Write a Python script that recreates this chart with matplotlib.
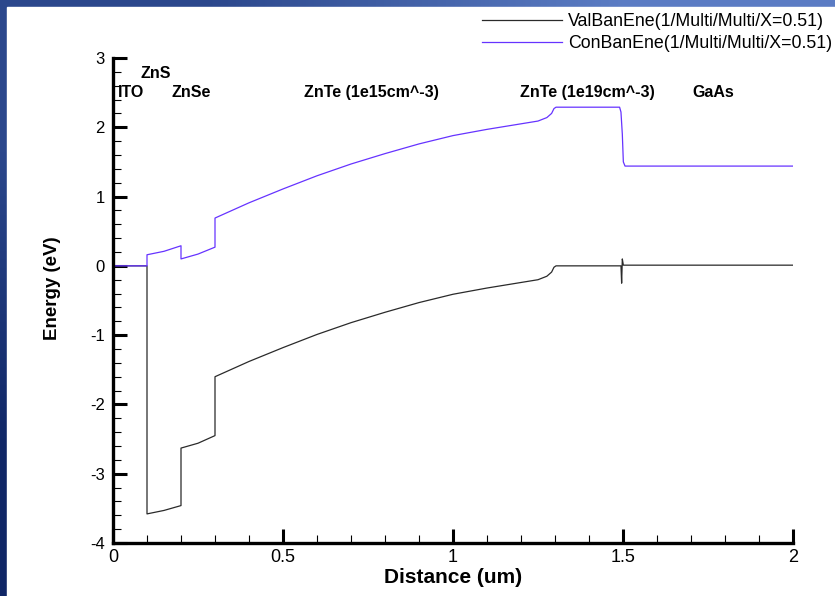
import numpy as np
import matplotlib
matplotlib.use("Agg")
import matplotlib.pyplot as plt
from matplotlib.patches import Rectangle

# conduction band (purple)
cb_x = [0, 0.1, 0.1, 0.15, 0.2, 0.2, 0.25, 0.3, 0.3, 0.4, 0.5, 0.6, 0.7, 0.8, 0.9, 1.0,
        1.1, 1.2, 1.25, 1.276, 1.29, 1.297, 1.303, 1.49, 1.494, 1.498, 1.501, 1.506, 2.0]
cb_y = [0, 0, 0.16, 0.21, 0.29, 0.10, 0.17, 0.27, 0.69, 0.91, 1.11, 1.30, 1.47, 1.62, 1.76, 1.88,
        1.97, 2.05, 2.09, 2.14, 2.20, 2.27, 2.29, 2.29, 2.22, 1.90, 1.50, 1.44, 1.44]

# valence band (black)
vb_x = [0, 0.1, 0.1, 0.15, 0.2, 0.2, 0.25, 0.3, 0.3, 0.4, 0.5, 0.6, 0.7, 0.8, 0.9, 1.0,
        1.1, 1.2, 1.25, 1.276, 1.29, 1.297, 1.303, 1.494, 1.496, 1.498, 1.501, 2.0]
vb_y = [0, 0, -3.58, -3.53, -3.46, -2.63, -2.56, -2.45, -1.60, -1.38, -1.18, -0.99, -0.82, -0.67, -0.53, -0.41,
        -0.32, -0.24, -0.20, -0.15, -0.09, -0.02, 0.0, 0.0, -0.25, 0.10, 0.01, 0.01]

layer_names = ["ITO", "ZnS", "ZnSe", "ZnTe (1e15cm^-3)", "ZnTe (1e19cm^-3)", "GaAs"]
layer_x = [0.015, 0.127, 0.23, 0.76, 1.395, 1.765]
layer_y = [2.5, 2.77, 2.5, 2.5, 2.5, 2.5]
layer_ha = ["left", "center", "center", "center", "center", "center"]

plt.rcParams["font.family"] = ["Liberation Sans", "DejaVu Sans"]
plt.rcParams["axes.unicode_minus"] = False

fig = plt.figure(figsize=(8.35, 5.96), dpi=100)

# slide style blue border
bg = fig.add_axes([0, 0, 1, 1], zorder=-2)
grad = np.array([[[0.17, 0.28, 0.55], [0.36, 0.49, 0.77]],
                 [[0.06, 0.15, 0.40], [0.20, 0.30, 0.60]]])
bg.imshow(grad, aspect="auto", interpolation="bilinear", extent=[0, 1, 0, 1])
bg.add_patch(Rectangle((7 / 835, 0), 1, 1 - 7 / 596, color="white", transform=bg.transAxes))
bg.axis("off")

ax = fig.add_axes([113 / 835, 53 / 596, 680 / 835, 485 / 596])
ax.patch.set_alpha(0)
ax.plot(vb_x, vb_y, color="#2a2a2a", lw=0.9, label="ValBanEne(1/Multi/Multi/X=0.51)")
ax.plot(cb_x, cb_y, color="#6633ff", lw=0.9, label="ConBanEne(1/Multi/Multi/X=0.51)")

for name, x, y, ha in zip(layer_names, layer_x, layer_y, layer_ha):
    ax.text(x, y, name, ha=ha, va="center", fontsize=11.5, fontweight="bold")

ax.set_xlim(0, 2)
ax.set_ylim(-4, 3)
ax.set_xticks([0, 0.5, 1, 1.5, 2])
ax.set_xticklabels(["0", "0.5", "1", "1.5", "2"], fontsize=13)
ax.set_xticks(np.arange(0, 2.01, 0.1), minor=True)
ax.set_yticks(range(-4, 4))
ax.set_yticks(np.arange(-4, 3.01, 0.2), minor=True)
ax.tick_params(axis="y", labelsize=12, pad=6)
ax.tick_params(axis="x", pad=4)
ax.tick_params(which="major", direction="in", length=10, width=2.2)
ax.tick_params(which="minor", direction="in", length=6, width=0.8)
for s in ["top", "right"]:
    ax.spines[s].set_visible(False)
for s in ["left", "bottom"]:
    ax.spines[s].set_linewidth(2.4)

ax.set_xlabel("Distance (um)", fontsize=15, fontweight="bold", labelpad=2)
ax.set_ylabel("Energy (eV)", fontsize=13.5, fontweight="bold")
ax.yaxis.set_label_coords(-0.077, 0.526)

fig.legend(loc="upper right", bbox_to_anchor=(832 / 835, 1 - 13 / 596), frameon=False,
           prop={"size": 12.8}, handlelength=4.5, handletextpad=0.35,
           labelspacing=0.3, borderpad=0, borderaxespad=0)

fig.savefig("out.png", dpi=100)
